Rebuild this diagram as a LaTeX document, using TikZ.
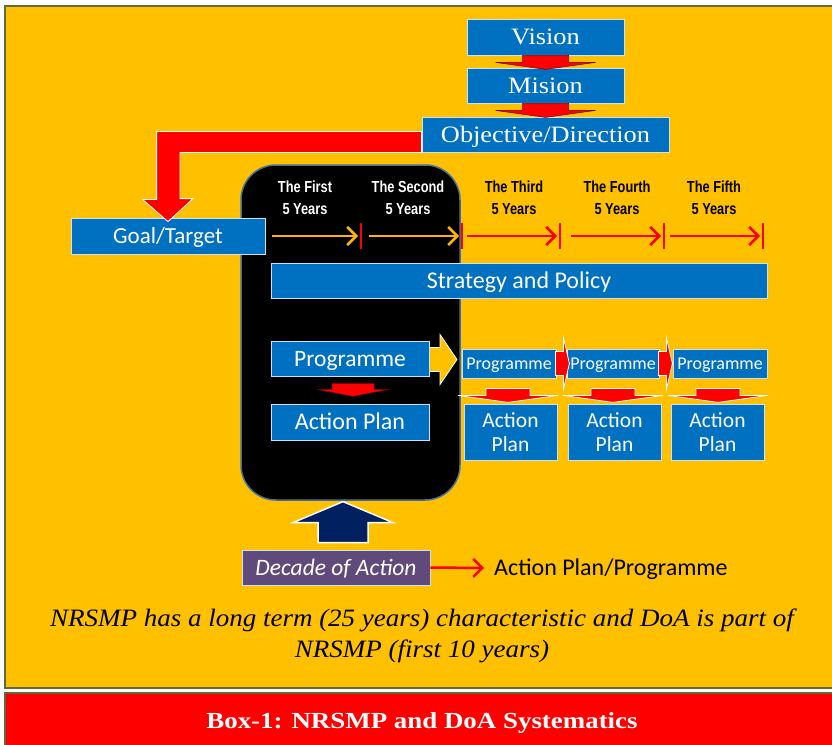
\documentclass[tikz,border=0pt]{standalone}
\usepackage{fontspec}
\setmainfont{Carlito}
\newfontfamily\serifc{Liberation Serif}[FakeStretch=1.12]
\newfontfamily\agency{Liberation Sans}[FakeStretch=0.8]
\newfontfamily\titlef{Liberation Serif}[FakeStretch=1.17]
\newfontfamily\capf{Liberation Serif}[FakeStretch=1.08]
\usetikzlibrary{arrows.meta,calc}
\definecolor{ylw}{HTML}{FFC000}
\definecolor{bl}{HTML}{0070C0}
\definecolor{nav}{HTML}{002060}
\definecolor{purp}{HTML}{604A7B}
\definecolor{oliv}{HTML}{5E6B3A}
\definecolor{frm}{HTML}{41719C}
\definecolor{orng}{HTML}{FFB300}
\tikzset{
  sbox/.style={fill=bl, draw=white!80!bl, line width=0.8pt, text=white, inner sep=0pt},
  oneline/.style={text height=#1, text depth=3pt},
  serbox/.style={sbox, oneline=18.6pt, font=\serifc\fontsize{23.5}{26}\selectfont},
  calbox/.style={sbox, font=\fontsize{24}{26}\selectfont},
  yr/.style={align=center, font=\agency\bfseries\fontsize{16}{22}\selectfont},
  tickln/.style={draw=red, line width=2.5pt},
  oarr/.style={draw=orng, line width=2.5pt, -{Straight Barb[length=9pt,width=18pt,line width=2.5pt]}},
  rarr/.style={draw=red, line width=2.5pt, -{Straight Barb[length=9pt,width=18pt,line width=2.5pt]}},
  redblk/.style={fill=red, draw=red!45!black, line width=0.5pt},
  redglow/.style={fill=red, draw=white, line width=0.8pt},
  pics/dblk/.style args={#1/#2/#3/#4}{code={
    \path[pic actions] (-#1,0) -- (#1,0) -- (#1,#2) -- (#3,#2) -- (0,#2+#4) -- (-#3,#2) -- (-#1,#2) -- cycle;}}
}
\begin{document}
\begin{tikzpicture}[x=1pt,y=-1pt]
\useasboundingbox (0,0) rectangle (832,744);
\fill[white] (0,0) rectangle (832,744);
\draw[fill=ylw, draw=oliv, line width=1.5pt] (5,6) rectangle (838,688);
\draw[fill=red, draw=oliv, line width=1.5pt] (5,693) rectangle (838,750);

% black frame
\node[fill=black, draw=frm, line width=1.5pt, rounded corners=35pt, minimum width=219pt, minimum height=335pt, inner sep=0pt] (bb) at (350.5,332.5) {};

% top boxes
\node[serbox, minimum width=157pt, minimum height=36pt] (vis) at (545.5,37) {Vision};
\node[serbox, minimum width=157pt, minimum height=35pt] (mis) at (545.5,85.5) {Mision};
\node[serbox, minimum width=247pt, minimum height=35pt] (obj) at (545.5,134.5) {Objective/Direction};
\pic[redblk] at (vis.south) {dblk=23/7/50/7};
\pic[redblk] at (mis.south) {dblk=23/7/50/7};

\node[calbox, oneline=17.8pt, font=\fontsize{23}{26}\selectfont, minimum width=194pt, minimum height=36pt] (goal) at (168,236) {Goal/Target};
% big L arrow
\path[redglow] ($(obj.south west)+(0,-21)$) -- ++(-265,0) -- ++(0,68) -- ++(-14,0)
   -- ($(goal.north)+(0,4)$) -- ++(25,-23) -- ++(-13,0) -- ++(0,-46) -- (obj.south west) -- cycle;

% year labels
\node[yr, text=white] (y1) at (305,198) {The First\\5 Years};
\node[yr, text=white] (y2) at (408,198) {The Second\\5 Years};
\node[yr, text=black] (y3) at (514,198) {The Third\\5 Years};
\node[yr, text=black] (y4) at (617,198) {The Fourth\\5 Years};
\node[yr, text=black] (y5) at (714,198) {The Fifth\\5 Years};

% timeline
\coordinate (t0) at (272,236);
\coordinate (k1) at (361,236);
\coordinate (k2) at (462,236);
\coordinate (k3) at (560,236);
\coordinate (k4) at (664,236);
\coordinate (k5) at (763,236);
\foreach \k in {k1,k2,k3,k4,k5}{\draw[tickln] ($(\k)+(0,-13)$) -- ($(\k)+(0,13)$);}
\draw[oarr] (t0) -- ($(k1)+(-3,0)$);
\draw[oarr] ($(k1)+(8,0)$) -- ($(k2)+(-3,0)$);
\draw[rarr] ($(k2)+(5,0)$) -- ($(k3)+(-3,0)$);
\draw[rarr] ($(k3)+(11,0)$) -- ($(k4)+(-3,0)$);
\draw[rarr] ($(k4)+(6,0)$) -- ($(k5)+(-3,0)$);

\node[calbox, oneline=18.5pt, minimum width=496pt, minimum height=35pt] (strat) at (519,280.5) {Strategy and Policy};

% programme in black box
\path[fill=ylw, draw=white, line width=0.8pt] (422,347.5) -- ++(18,0) -- ++(0,-13) -- ++(17,25) -- ++(-17,25) -- ++(0,-13) -- ++(-18,0) -- cycle;
\node[calbox, oneline=18.1pt, font=\fontsize{23.5}{26}\selectfont, minimum width=158pt, minimum height=35pt] (prog) at (350,358.5) {Programme};
\node[calbox, oneline=18.5pt, minimum width=158pt, minimum height=36pt] (ap) at (350,422) {Action Plan};
\pic[redblk] at ($(prog.south)+(3,7)$) {dblk=21/6/36/7};

% right programmes
\node[calbox, oneline=14.6pt, font=\fontsize{18}{20}\selectfont, minimum width=94pt, minimum height=29pt] (p1) at (509,363.5) {Programme};
\node[calbox, oneline=14.6pt, font=\fontsize{18}{20}\selectfont, minimum width=92pt, minimum height=29pt] (p2) at (613,363.5) {Programme};
\node[calbox, oneline=14.6pt, font=\fontsize{18}{20}\selectfont, minimum width=94pt, minimum height=29pt] (p3) at (720,363.5) {Programme};
\path[redglow] ($(p1.east)+(-1,-12)$) -- ++(8,0) -- ++(0,-14) -- ++(6,26) -- ++(-6,26) -- ++(0,-14) -- ++(-8,0) -- cycle;
\path[redglow] ($(p2.east)+(-1,-12)$) -- ++(8,0) -- ++(0,-14) -- ++(6,26) -- ++(-6,26) -- ++(0,-14) -- ++(-8,0) -- cycle;

\node[calbox, align=center, font=\fontsize{21.5}{24}\selectfont, minimum width=93pt, minimum height=56pt] (a1) at (510.5,432) {Action\\Plan};
\node[calbox, align=center, font=\fontsize{21.5}{24}\selectfont, minimum width=93pt, minimum height=56pt] (a2) at (614.5,432) {Action\\Plan};
\node[calbox, align=center, font=\fontsize{21.5}{24}\selectfont, minimum width=93pt, minimum height=56pt] (a3) at (717.5,432) {Action\\Plan};
\pic[redglow] at ($(p1.south)+(-1,10)$) {dblk=22/7/50/7};
\pic[redglow] at ($(p2.south)+(0,10)$) {dblk=22/7/50/7};
\pic[redglow] at ($(p3.south)+(-2,10)$) {dblk=22/7/50/7};

% decade of action
\node[sbox, oneline=18.1pt, fill=purp, font=\itshape\fontsize{23.5}{26}\selectfont, minimum width=188pt, minimum height=35pt] (doa) at (336,567.5) {Decade of Action};
\path[fill=nav, draw=white, line width=1.5pt] ($(doa.north)+(-18,-7)$) -- ++(0,-20) -- ++(-25,0) -- ++(50,-21) -- ++(50,21) -- ++(-25,0) -- ++(0,20) -- cycle;
\node[anchor=west, oneline=18.5pt, font=\fontsize{24}{26}\selectfont, inner sep=0pt] (apt) at (494,568) {Action Plan/Programme};
\draw[rarr] (doa.east) -- ($(apt.west)+(-10,0)$);

% caption
\node[align=center, font=\capf\itshape\fontsize{25}{31}\selectfont] (cap) at (422,636) {NRSMP has a long term (25 years) characteristic and DoA is part of\\NRSMP (first 10 years)};
\node[text=white, oneline=18.2pt, font=\titlef\bfseries\fontsize{23}{28}\selectfont] (ttl) at (422,721) {Box-1: NRSMP and DoA Systematics};
\end{tikzpicture}
\end{document}
